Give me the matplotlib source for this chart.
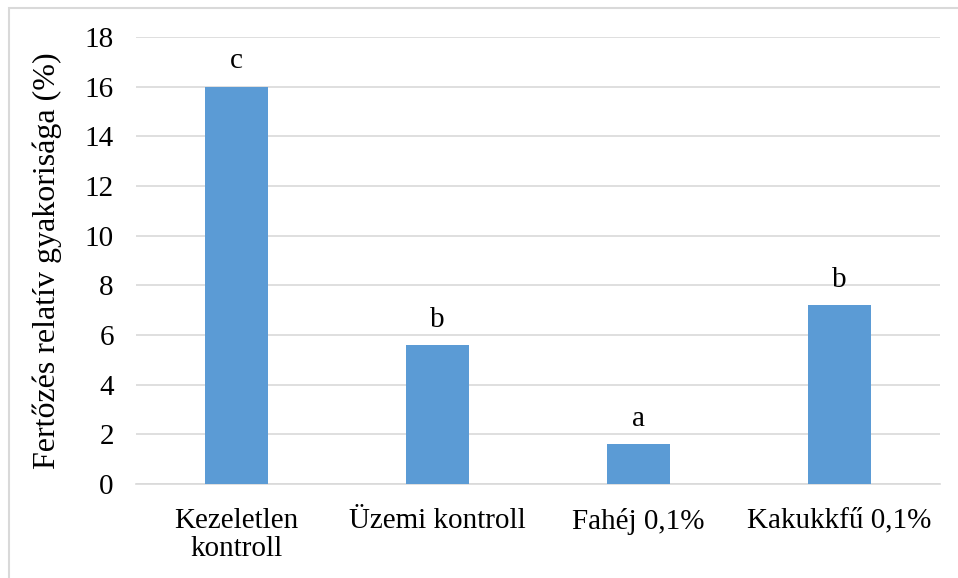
import matplotlib
matplotlib.use('Agg')
import matplotlib.pyplot as plt
from matplotlib.patches import Rectangle

kategoriak = ['Kezeletlen\nkontroll', 'Üzemi kontroll', 'Fahéj 0,1%', 'Kakukkfű 0,1%']
ertekek = [16, 5.6, 1.6, 7.2]
betuk = ['c', 'b', 'a', 'b']

plt.rcParams['font.family'] = ['Liberation Serif', 'DejaVu Serif']

fig = plt.figure(figsize=(9.58, 5.78), dpi=100)
# keret (csak bal és felső él látszik)
fig.patches.append(Rectangle((9 / 958, -0.1), 1.2, 1.1 - 8 / 578, transform=fig.transFigure,
                             fill=False, edgecolor='#D9D9D9', linewidth=1.5))

ax = fig.add_axes([136 / 958, 1 - 484 / 578, (940 - 136) / 958, (484 - 37) / 578])
x = range(len(kategoriak))
ax.bar(x, ertekek, width=0.31, color='#5B9BD5', zorder=3)

for i, (v, b) in enumerate(zip(ertekek, betuk)):
    ax.text(i, v + 0.5, b, ha='center', va='bottom', fontsize=21)

ax.set_xlim(-0.5, len(kategoriak) - 0.5)
ax.set_ylim(0, 18)
ax.set_yticks(range(0, 19, 2))
ax.set_xticks(list(x))
ax.set_xticklabels(kategoriak, fontsize=21, linespacing=1.12)
ax.tick_params(axis='y', labelsize=21, length=0, pad=16)
ax.tick_params(axis='x', length=0, pad=17)
ax.grid(axis='y', color='#D9D9D9', linewidth=1.2, zorder=0)
for s in ['top', 'right', 'left']:
    ax.spines[s].set_visible(False)
ax.spines['bottom'].set_color('#D9D9D9')
ax.spines['bottom'].set_linewidth(1.2)

ax.set_ylabel('Fertőzés relatív gyakorisága (%)', fontsize=23, labelpad=16)

plt.savefig('out.png', dpi=100)
